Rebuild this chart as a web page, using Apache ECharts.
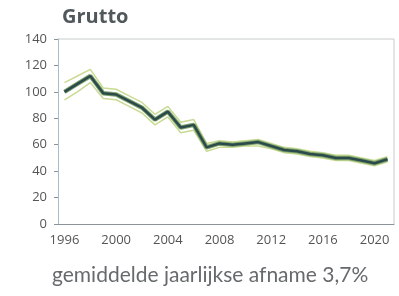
<!DOCTYPE html>
<html>
<head>
<meta charset="utf-8">
<script src="https://cdn.jsdelivr.net/npm/echarts@6/dist/echarts.min.js"></script>
<style>
html,body{margin:0;padding:0;background:#fff;}
#main{width:399px;height:296px;}
</style>
</head>
<body>
<div id="main"></div>
<script>
// jaren en indexwaarden grutto (1996 = ~100)
var years = ['1996','1997','1998','1999','2000','2001','2002','2003','2004','2005','2006','2007','2008',
             '2009','2010','2011','2012','2013','2014','2015','2016','2017','2018','2019','2020','2021'];
var index = [100,106,112,99,98,93,88,79,85,73,75,58,61,60,61,62,59,56,55,53,52,50,50,48,46,49];
var upper = [107,112,117,103,102,97,92,83,89,77,79,61,63,62,63,64,61,58,57,55,54,52,52,50,48,51];
var lower = [94,100,107,95,94,89,84,75,81,69,71,55,58,58,59,59,57,54,53,51,50,48,48,46,44,47];

var myChart = echarts.init(document.getElementById('main'));
var option = {
	animation:false,
	title:{
		text:'Grutto',
		left:57, top:2,
		textStyle:{fontFamily:'Open Sans',fontSize:20,fontWeight:'bold',color:'#50585b'}
	},
	graphic:[{
		type:'text', left:52, top:265,
		style:{text:'gemiddelde jaarlijkse afname 3,7%',fontFamily:'Lato',fontSize:21,fill:'#666a6c'}
	},{
		type:'line', shape:{x1:58,y1:39,x2:394,y2:39},
		style:{stroke:'#c8cbcc',lineWidth:1}
	},{
		type:'line', shape:{x1:394,y1:39,x2:394,y2:224},
		style:{stroke:'#c8cbcc',lineWidth:1}
	}],
	grid:{left:58,right:5,top:39,bottom:72},
	xAxis:{
		type:'category',
		data:years,
		boundaryGap:true,
		axisLine:{lineStyle:{color:'#8a9399'}},
		axisTick:{alignWithLabel:true,interval:0,length:4,lineStyle:{color:'#8a9399'}},
		axisLabel:{interval:3,color:'#555',fontFamily:'Open Sans',fontSize:13,margin:10}
	},
	yAxis:{
		type:'value',
		min:0,max:140,interval:20,
		axisLine:{show:true,lineStyle:{color:'#a9bcc8'}},
		axisTick:{show:true,length:4,lineStyle:{color:'#8a9399'}},
		splitLine:{show:false},
		axisLabel:{color:'#555',fontFamily:'Open Sans',fontSize:13,margin:11}
	},
	series:[{
		name:'boven',type:'line',data:upper,symbol:'none',
		lineStyle:{color:'#c9db93',width:1.5}
	},{
		name:'onder',type:'line',data:lower,symbol:'none',
		lineStyle:{color:'#c9db93',width:1.5}
	},{
		name:'rand',type:'line',data:index,symbol:'none',
		lineStyle:{color:'#7da36a',width:4.5}
	},{
		name:'index',type:'line',data:index,symbol:'none',
		lineStyle:{color:'#2c4a4c',width:2.5}
	}]
};
myChart.setOption(option);
</script>
</body>
</html>
